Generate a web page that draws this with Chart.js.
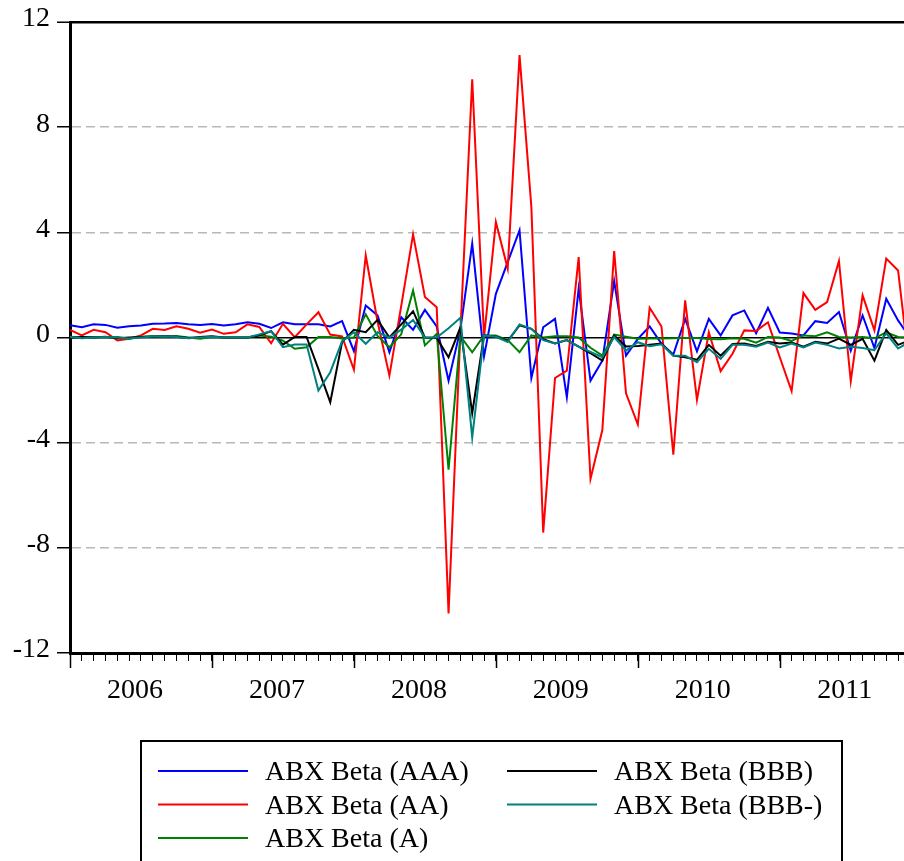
<!DOCTYPE html>
<html>
<head>
<meta charset="utf-8">
<script src="https://cdn.jsdelivr.net/npm/chart.js@4.4.0/dist/chart.umd.min.js"></script>
<style>
  html, body { margin: 0; padding: 0; background: #fff; }
  #wrap { width: 904px; height: 861px; }
</style>
</head>
<body>
<div id="wrap"><canvas id="abx" width="904" height="861"></canvas></div>
<script>
// monthly observations, 2006M01 .. 2011M12 (picture is cut at Nov/Dec 2011)
let months = [];
for (let y = 2006; y <= 2011; y++) {
  for (let m = 1; m <= 12; m++) months.push(y + "M" + (m < 10 ? "0" + m : m));
}
let year_labels = ["2006", "2007", "2008", "2009", "2010", "2011"];
let y_ticks = [-12, -8, -4, 0, 4, 8, 12];

let beta_aaa = [
  0.47, 0.39, 0.5, 0.48, 0.37, 0.43, 0.46, 0.52, 0.53, 0.55, 0.5, 0.48,
  0.51, 0.46, 0.5, 0.58, 0.52, 0.36, 0.58, 0.5, 0.5, 0.5, 0.42, 0.62,
  -0.52, 1.22, 0.84, -0.56, 0.77, 0.29, 1.05, 0.42, -1.64, 0.3, 3.57, -0.72,
  1.66, 2.87, 4.08, -1.54, 0.39, 0.71, -2.27, 1.86, -1.64, -0.88, 2.15, -0.69,
  -0.05, 0.42, -0.24, -0.65, 0.71, -0.53, 0.71, 0.08, 0.84, 1.03, 0.16, 1.13,
  0.19, 0.15, 0.08, 0.62, 0.55, 0.97, -0.5, 0.84, -0.4, 1.47, 0.65, 0.0,
];
let beta_aa = [
  0.29, 0.08, 0.29, 0.2, -0.11, -0.05, 0.08, 0.33, 0.29, 0.43, 0.33, 0.18,
  0.3, 0.14, 0.2, 0.5, 0.4, -0.22, 0.52, 0.01, 0.5, 0.96, 0.11, 0.04,
  -1.23, 3.12, 0.6, -1.45, 1.2, 3.92, 1.54, 1.15, -10.5, 0.2, 9.82, 0.01,
  4.39, 2.62, 10.74, 4.97, -7.42, -1.54, -1.26, 3.06, -5.38, -3.52, 3.29, -2.12,
  -3.31, 1.13, 0.42, -4.46, 1.41, -2.37, 0.2, -1.28, -0.62, 0.27, 0.25, 0.58,
  -0.75, -2.04, 1.69, 1.05, 1.35, 2.91, -1.66, 1.6, 0.27, 3.0, 2.55, -1.3,
];
let beta_a = [
  0.03, 0.0, 0.02, 0.0, 0.02, -0.05, 0.03, 0.05, 0.02, 0.06, 0.0, -0.05,
  0.02, 0.0, 0.0, 0.0, 0.08, 0.03, -0.12, -0.43, -0.37, 0.02, 0.02, -0.04,
  0.0, 0.88, 0.06, -0.37, 0.12, 1.79, -0.3, 0.14, -5.03, 0.05, -0.56, 0.08,
  0.08, -0.1, -0.56, 0.08, 0.0, 0.05, 0.05, 0.0, -0.39, -0.69, 0.11, 0.03,
  -0.05, -0.04, -0.04, -0.03, -0.02, -0.02, -0.06, -0.07, -0.03, -0.05, -0.2, 0.02,
  0.0, -0.13, 0.08, 0.05, 0.2, 0.02, 0.0, 0.02, -0.03, 0.2, 0.02, 0.0,
];
let beta_bbb = [
  -0.02, 0.02, 0.0, 0.03, -0.03, 0.0, 0.02, 0.04, 0.06, 0.03, -0.02, 0.02,
  0.05, 0.0, 0.0, 0.0, 0.08, 0.24, -0.27, 0.02, 0.02, -1.2, -2.46, -0.17,
  0.29, 0.2, 0.67, 0.0, 0.5, 1.0, 0.0, -0.02, -0.75, 0.38, -2.88, 0.08,
  0.03, -0.13, 0.46, 0.33, -0.06, -0.23, -0.1, -0.35, -0.6, -0.88, 0.08, -0.34,
  -0.32, -0.28, -0.23, -0.69, -0.75, -0.85, -0.28, -0.69, -0.25, -0.23, -0.32, -0.16,
  -0.23, -0.19, -0.35, -0.16, -0.23, -0.04, -0.28, -0.05, -0.88, 0.29, -0.28, -0.1,
];
let beta_bbb_minus = [
  0.02, -0.03, 0.0, 0.02, 0.0, -0.04, 0.0, 0.04, 0.05, 0.02, -0.03, 0.0,
  0.03, 0.0, 0.0, 0.0, 0.12, 0.24, -0.37, -0.27, -0.27, -2.02, -1.32, -0.14,
  0.2, -0.24, 0.2, 0.0, 0.3, 0.67, 0.0, 0.0, 0.35, 0.75, -3.8, 0.08,
  0.03, -0.17, 0.5, 0.33, -0.1, -0.23, -0.1, -0.35, -0.55, -0.75, 0.02, -0.5,
  -0.18, -0.33, -0.26, -0.69, -0.69, -0.94, -0.43, -0.81, -0.28, -0.28, -0.35, -0.19,
  -0.38, -0.23, -0.38, -0.19, -0.28, -0.42, -0.35, -0.4, -0.48, 0.16, -0.42, -0.15,
];

let serif = "'Liberation Serif', 'Times New Roman', serif";
Chart.defaults.font.family = serif;
Chart.defaults.color = "#000";

let to_points = (values) => values.map((v, i) => ({ x: i, y: v }));

let make_set = (label, values, color, order) => ({
  label: label,
  data: to_points(values),
  borderColor: color,
  backgroundColor: color,
  borderWidth: 2,
  pointRadius: 0,
  tension: 0,
  fill: false,
  order: order, // later series drawn on top, like the original
});

// legend box + long year ticks under the axis
let extras = {
  id: "extras",
  afterDraw(chart) {
    let ctx = chart.ctx;
    let xs = chart.scales.x;
    ctx.save();
    ctx.strokeStyle = "#000";
    ctx.lineWidth = 1.5;
    for (let i = 0; i < months.length; i += 12) {
      let px = Math.round(xs.getPixelForValue(i)) + 0.5;
      if (px > chart.chartArea.right) break;
      ctx.beginPath();
      ctx.moveTo(px, xs.top);
      ctx.lineTo(px, xs.top + 15);
      ctx.stroke();
    }

    ctx.lineWidth = 2;
    ctx.strokeRect(141, 741, 701, 140);
    ctx.font = "28px " + serif;
    ctx.textBaseline = "middle";
    ctx.fillStyle = "#000";
    chart.data.datasets.forEach((ds, i) => {
      let col = i < 3 ? 0 : 1;
      let row = i < 3 ? i : i - 3;
      let lx = col ? 507 : 158;
      let ly = 771 + row * 33.5;
      ctx.strokeStyle = ds.borderColor;
      ctx.lineWidth = 2;
      ctx.beginPath();
      ctx.moveTo(lx, ly);
      ctx.lineTo(lx + 90, ly);
      ctx.stroke();
      ctx.fillText(ds.label, lx + 107, ly + 2);
    });
    ctx.restore();
  },
};

const abx = document.getElementById("abx").getContext("2d");
let AbxChart = new Chart(abx, {
  type: "line",
  data: {
    datasets: [
      make_set("ABX Beta (AAA)", beta_aaa, "#0000ff", 5),
      make_set("ABX Beta (AA)", beta_aa, "#ff0000", 4),
      make_set("ABX Beta (A)", beta_a, "#008000", 3),
      make_set("ABX Beta (BBB)", beta_bbb, "#000000", 2),
      make_set("ABX Beta (BBB-)", beta_bbb_minus, "#008080", 1),
    ],
  },
  options: {
    responsive: false,
    animation: false,
    devicePixelRatio: 1,
    layout: { padding: { top: 22, right: 0, left: 0, bottom: 0 } },
    plugins: { legend: { display: false }, tooltip: { enabled: false } },
    scales: {
      x: {
        type: "linear",
        min: 0,
        max: 70.5,
        afterBuildTicks: (scale) => {
          scale.ticks = months.map((m, i) => ({ value: i }));
        },
        afterFit: (scale) => {
          scale.height = 208;
          scale.paddingLeft = 0;
          scale.paddingRight = 0;
        },
        ticks: {
          autoSkip: false,
          maxRotation: 0,
          padding: 13,
          labelOffset: -6,
          font: { size: 28 },
          color: "#000",
          callback: (value) => (value % 12 === 6 ? year_labels[(value - 6) / 12] : ""),
        },
        grid: {
          drawOnChartArea: false,
          drawTicks: true,
          tickLength: 8,
          tickColor: "#000",
          tickWidth: 1,
        },
        border: { display: true, color: "#000", width: 3 },
      },
      y: {
        min: -12,
        max: 12,
        afterBuildTicks: (scale) => {
          scale.ticks = y_ticks.map((v) => ({ value: v }));
        },
        afterFit: (scale) => {
          scale.width = 70;
          scale.paddingTop = 0;
          scale.paddingBottom = 0;
        },
        ticks: {
          padding: 7,
          labelOffset: -3,
          font: { size: 28 },
          color: "#000",
        },
        grid: {
          drawOnChartArea: true,
          drawTicks: true,
          tickLength: 13,
          tickColor: "#000",
          tickWidth: 1.5,
          tickBorderDash: [],
          color: (c) => {
            if (!c.tick) return "#b8b8b8";
            if (c.tick.value === 0 || c.tick.value === 12) return "#000";
            return "#b8b8b8";
          },
          lineWidth: (c) => (c.tick && c.tick.value === 12 ? 2.5 : 1.5),
        },
        border: {
          display: true,
          color: "#000",
          width: 3,
          dash: (c) => (c.tick && (c.tick.value === 0 || c.tick.value === 12) ? [] : [9, 5]),
        },
      },
    },
  },
  plugins: [extras],
});
</script>
</body>
</html>
